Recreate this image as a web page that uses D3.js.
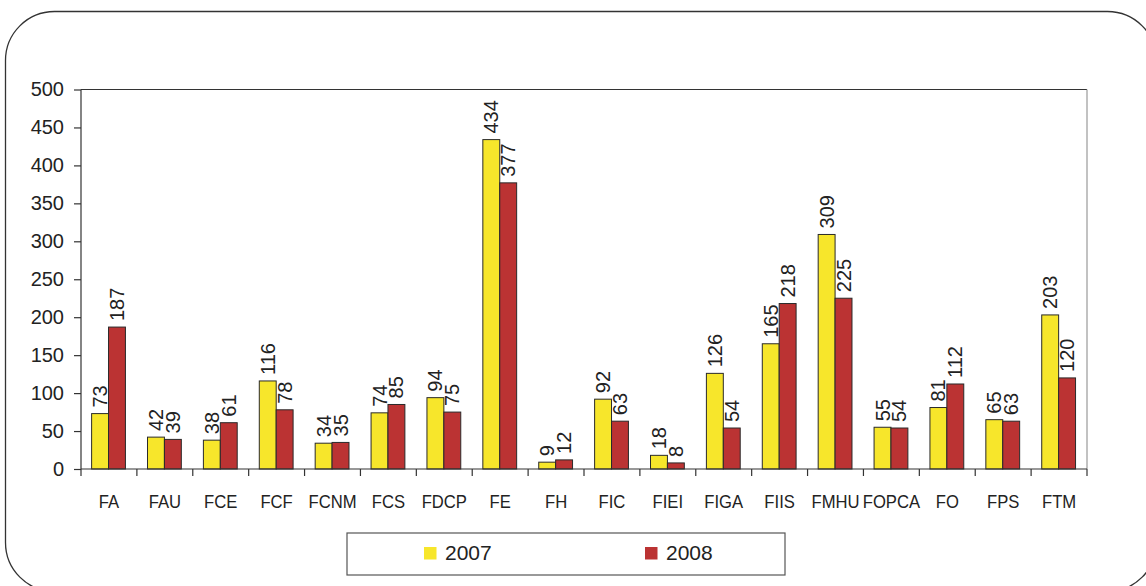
<!DOCTYPE html>
<html>
<head>
<meta charset="utf-8">
<script src="https://cdn.jsdelivr.net/npm/d3@7"></script>
<style>
  body { margin: 0; background: #fff; }
  svg { display: block; }
  svg text { font-family: "Liberation Sans", Arial, sans-serif; }
</style>
</head>
<body>
<figure id="bar" style="margin:0"></figure>
<script>
const categories = ["FA", "FAU", "FCE", "FCF", "FCNM", "FCS", "FDCP", "FE", "FH", "FIC", "FIEI", "FIGA", "FIIS", "FMHU", "FOPCA", "FO", "FPS", "FTM"];
const series = ["2007", "2008"];
const values2007 = [73, 42, 38, 116, 34, 74, 94, 434, 9, 92, 18, 126, 165, 309, 55, 81, 65, 203];
const values2008 = [187, 39, 61, 78, 35, 85, 75, 377, 12, 63, 8, 54, 218, 225, 54, 112, 63, 120];
const yTicks = [0, 50, 100, 150, 200, 250, 300, 350, 400, 450, 500];
const colors = ["#f7e62b", "#bb3333"];

const W = 1146, H = 586;
const plot = { left: 81, right: 1087, top: 89.5, bottom: 469 };

const svg = d3.select("figure#bar")
  .append("svg")
  .attr("width", W)
  .attr("height", H);

// outer rounded frame (runs off the bottom/right of the picture)
svg.append("rect")
  .attr("x", 5.5).attr("y", 11.5)
  .attr("width", 1151).attr("height", 580)
  .attr("rx", 49).attr("ry", 49)
  .attr("fill", "none")
  .attr("stroke", "#333")
  .attr("stroke-width", 1.3);

const x = d3.scaleBand()
  .domain(categories)
  .range([plot.left, plot.right])
  .padding(0);

const x1 = d3.scaleBand()
  .domain(series)
  .range([x.bandwidth() * 0.19, x.bandwidth() * 0.795]);

const y = d3.scaleLinear()
  .domain([0, 500])
  .range([plot.bottom, plot.top]);

// plot frame: top and right lines
svg.append("line")
  .attr("x1", plot.left).attr("x2", plot.right)
  .attr("y1", plot.top).attr("y2", plot.top)
  .attr("stroke", "#333").attr("stroke-width", 1.2);
svg.append("line")
  .attr("x1", plot.right).attr("x2", plot.right)
  .attr("y1", plot.top).attr("y2", plot.bottom)
  .attr("stroke", "#999").attr("stroke-width", 1.2);

const rows = categories.map((c, i) => ({ cat: c, vals: [values2007[i], values2008[i]] }));

// bars
const groups = svg.selectAll("g.cat")
  .data(rows)
  .enter()
  .append("g")
  .attr("class", "cat")
  .attr("transform", d => "translate(" + x(d.cat) + ",0)");

groups.selectAll("rect")
  .data(d => d.vals.map((v, j) => ({ s: series[j], v: v, j: j })))
  .enter()
  .append("rect")
  .attr("x", d => x1(d.s))
  .attr("y", d => y(d.v))
  .attr("width", x1.bandwidth())
  .attr("height", d => y(0) - y(d.v))
  .attr("fill", d => colors[d.j])
  .attr("stroke", "#2a2a2a")
  .attr("stroke-width", 1);

// value labels, rotated
groups.selectAll("text")
  .data(d => d.vals.map((v, j) => ({ s: series[j], v: v })))
  .enter()
  .append("text")
  .attr("transform", d => "translate(" + (x1(d.s) + x1.bandwidth() / 2 + 7) + "," + (y(d.v) - 6) + ")rotate(-90)")
  .attr("font-size", 20)
  .attr("fill", "#222")
  .text(d => d.v);

// Y axis
const yAxis = svg.append("g")
  .attr("transform", "translate(" + plot.left + ",0)")
  .call(d3.axisLeft(y).tickValues(yTicks).tickSize(7).tickPadding(10));
yAxis.attr("font-family", null);
yAxis.selectAll("text").attr("font-size", 20).attr("fill", "#222");
yAxis.selectAll("line, path").attr("stroke", "#333").attr("stroke-width", 1.2);
yAxis.select("path").attr("d", "M0," + plot.top + "V" + plot.bottom);

// X axis: ticks at category boundaries
const xAxis = svg.append("g")
  .attr("transform", "translate(0," + plot.bottom + ")");
xAxis.append("line")
  .attr("x1", plot.left).attr("x2", plot.right)
  .attr("stroke", "#333").attr("stroke-width", 1.2);
xAxis.selectAll("line.tick")
  .data(categories.concat(["end"]))
  .enter()
  .append("line")
  .attr("class", "tick")
  .attr("x1", (d, i) => i < categories.length ? x(d) : plot.right)
  .attr("x2", (d, i) => i < categories.length ? x(d) : plot.right)
  .attr("y1", 0).attr("y2", 7)
  .attr("stroke", "#333").attr("stroke-width", 1.2);
// category labels are slightly condensed in the original
xAxis.selectAll("text")
  .data(categories)
  .enter()
  .append("text")
  .attr("transform", d => "translate(" + (x(d) + x.bandwidth() / 2) + ",39)scale(0.9,1)")
  .attr("text-anchor", "middle")
  .attr("font-size", 18.5)
  .attr("fill", "#222")
  .text(d => d);

// legend
const legend = svg.append("g");
legend.append("rect")
  .attr("x", 347).attr("y", 533)
  .attr("width", 438).attr("height", 42)
  .attr("fill", "none")
  .attr("stroke", "#555").attr("stroke-width", 1.2);
const items = legend.selectAll("g")
  .data(series)
  .enter()
  .append("g")
  .attr("transform", (d, i) => "translate(" + (424 + i * 221) + ",547)");
items.append("rect")
  .attr("width", 12.5).attr("height", 12.5)
  .attr("fill", (d, i) => colors[i]);
items.append("text")
  .attr("x", 21).attr("y", 13)
  .attr("font-size", 21)
  .attr("fill", "#222")
  .text(d => d);
</script>
</body>
</html>
